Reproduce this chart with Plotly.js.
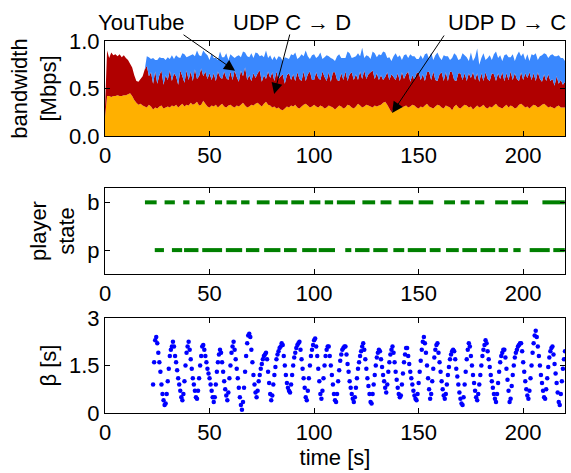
<!DOCTYPE html>
<html>
<head>
<meta charset="utf-8">
<script src="https://cdn.plot.ly/plotly-3.0.1.min.js"></script>
<style>html,body{margin:0;padding:0;background:#fff;}#chart{width:571px;height:473px;}</style>
</head>
<body>
<div id="chart"></div>
<script>
// ---------- data ----------
// bandwidth samples, one per second, t = 0..220 [Mbps]
var bwTime = [];
for (var i = 0; i <= 220; i++) bwTime.push(i);

var udpDC = [
0.20,0.42,0.42,0.41,0.42,0.42,0.43,0.42,0.42,0.43,
0.43,0.44,0.45,0.42,0.38,0.35,0.33,0.34,0.32,0.31,
0.30,0.33,0.31,0.28,0.30,0.29,0.31,0.32,0.29,0.30,
0.31,0.30,0.32,0.31,0.33,0.30,0.32,0.34,0.31,0.33,
0.32,0.35,0.33,0.34,0.36,0.32,0.33,0.37,0.34,0.31,
0.30,0.32,0.31,0.33,0.30,0.32,0.34,0.31,0.30,0.32,
0.33,0.31,0.30,0.32,0.31,0.33,0.35,0.32,0.30,0.31,
0.33,0.32,0.34,0.35,0.33,0.31,0.34,0.36,0.33,0.32,
0.30,0.31,0.29,0.30,0.28,0.27,0.29,0.31,0.30,0.32,
0.31,0.33,0.30,0.29,0.31,0.33,0.34,0.32,0.30,0.31,
0.33,0.31,0.30,0.32,0.31,0.29,0.30,0.32,0.31,0.30,
0.28,0.30,0.32,0.31,0.29,0.30,0.33,0.32,0.30,0.29,
0.31,0.34,0.32,0.30,0.31,0.33,0.32,0.31,0.30,0.32,
0.31,0.32,0.33,0.35,0.36,0.33,0.29,0.25,0.29,0.31,
0.32,0.31,0.30,0.31,0.32,0.30,0.31,0.33,0.32,0.30,
0.29,0.31,0.30,0.32,0.34,0.31,0.30,0.29,0.31,0.33,
0.32,0.30,0.29,0.32,0.31,0.30,0.27,0.31,0.33,0.30,
0.29,0.31,0.33,0.32,0.30,0.31,0.28,0.30,0.32,0.30,
0.31,0.33,0.30,0.29,0.31,0.30,0.32,0.34,0.31,0.30,
0.29,0.31,0.33,0.30,0.32,0.31,0.29,0.30,0.33,0.34,
0.32,0.30,0.31,0.29,0.31,0.33,0.32,0.30,0.31,0.33,
0.34,0.32,0.30,0.31,0.30,0.29,0.31,0.32,0.30,0.30,
0.30];

var udpCD = [
0.10,0.48,0.40,0.47,0.43,0.44,0.41,0.44,0.41,0.42,
0.39,0.36,0.31,0.30,0.26,0.23,0.24,0.26,0.31,0.39,
0.44,0.30,0.36,0.27,0.38,0.26,0.33,0.37,0.25,0.34,
0.28,0.39,0.26,0.35,0.30,0.24,0.37,0.29,0.25,0.36,
0.27,0.33,0.25,0.36,0.24,0.31,0.38,0.26,0.34,0.29,
0.36,0.27,0.35,0.25,0.38,0.30,0.26,0.37,0.31,0.27,
0.35,0.28,0.39,0.30,0.26,0.36,0.28,0.40,0.29,0.33,
0.25,0.34,0.27,0.31,0.36,0.26,0.30,0.24,0.35,0.29,
0.37,0.27,0.39,0.30,0.35,0.38,0.26,0.33,0.36,0.27,
0.34,0.25,0.37,0.31,0.27,0.35,0.24,0.33,0.38,0.28,
0.26,0.36,0.31,0.27,0.37,0.33,0.28,0.35,0.26,0.37,
0.39,0.29,0.26,0.35,0.30,0.38,0.25,0.33,0.37,0.30,
0.34,0.25,0.36,0.30,0.38,0.27,0.33,0.36,0.39,0.28,
0.35,0.27,0.31,0.24,0.26,0.34,0.30,0.40,0.33,0.28,
0.34,0.27,0.37,0.29,0.33,0.38,0.26,0.31,0.27,0.36,
0.38,0.28,0.35,0.26,0.33,0.37,0.29,0.39,0.28,0.25,
0.33,0.37,0.29,0.35,0.27,0.38,0.40,0.28,0.25,0.36,
0.37,0.28,0.33,0.26,0.36,0.30,0.39,0.29,0.34,0.27,
0.35,0.25,0.37,0.31,0.27,0.36,0.33,0.24,0.35,0.30,
0.38,0.27,0.33,0.29,0.36,0.28,0.37,0.30,0.25,0.33,
0.27,0.36,0.30,0.38,0.28,0.33,0.26,0.37,0.29,0.24,
0.31,0.26,0.35,0.27,0.30,0.24,0.32,0.23,0.29,0.24,
0.27];

var youtube = [
0,0,0,0,0,0,0,0,0,0,
0,0,0,0,0,0,0,0,0,0,
0.10,0.20,0.14,0.27,0.12,0.25,0.19,0.13,0.28,0.16,
0.24,0.12,0.27,0.15,0.22,0.29,0.13,0.24,0.30,0.14,
0.25,0.17,0.28,0.14,0.30,0.22,0.13,0.27,0.19,0.25,
0.14,0.28,0.16,0.24,0.12,0.27,0.23,0.15,0.26,0.21,
0.18,0.25,0.13,0.22,0.28,0.14,0.26,0.16,0.25,0.19,
0.29,0.16,0.27,0.21,0.15,0.28,0.19,0.30,0.14,0.24,
0.13,0.26,0.12,0.24,0.20,0.14,0.28,0.18,0.15,0.27,
0.20,0.30,0.14,0.23,0.28,0.16,0.32,0.19,0.13,0.26,
0.27,0.15,0.23,0.29,0.13,0.21,0.27,0.17,0.25,0.14,
0.12,0.25,0.28,0.16,0.23,0.14,0.31,0.22,0.15,0.24,
0.19,0.28,0.16,0.33,0.13,0.25,0.19,0.14,0.20,0.27,
0.17,0.27,0.21,0.30,0.26,0.15,0.24,0.14,0.22,0.28,
0.17,0.27,0.13,0.25,0.21,0.14,0.29,0.20,0.25,0.15,
0.14,0.26,0.16,0.28,0.20,0.13,0.29,0.12,0.26,0.30,
0.18,0.13,0.27,0.17,0.26,0.12,0.15,0.28,0.27,0.14,
0.15,0.28,0.19,0.25,0.13,0.27,0.12,0.24,0.26,0.18,
0.16,0.29,0.13,0.22,0.27,0.14,0.21,0.31,0.16,0.25,
0.12,0.27,0.20,0.24,0.15,0.27,0.13,0.25,0.31,0.17,
0.28,0.14,0.25,0.12,0.27,0.19,0.29,0.13,0.24,0.28,
0.22,0.28,0.17,0.27,0.26,0.31,0.21,0.30,0.23,0.28,
0.22];

// player state intervals [start, end] in seconds
var bufferingIntervals = [
[19.1,24.7],[28.5,33.4],[37.4,40.4],[43.5,47.7],[52.6,56.0],[58.1,63.0],
[65.1,69.1],[72.6,78.7],[81.3,87.4],[89.1,95.2],[97.8,103.0],[105.1,109.1],
[110.9,119.6],[123.1,129.2],[131.8,137.0],[140.5,147.4],[150.0,157.0],
[162.2,167.4],[170.1,174.4],[177.0,181.4],[186.6,192.7],[194.4,202.3],[209.2,219.9]];
var playingIntervals = [
[23.8,28.2],[32.0,36.9],[37.8,44.7],[46.5,56.0],[57.8,65.6],[67.4,73.8],
[76.1,83.9],[85.6,91.7],[94.3,101.3],[102.2,110.0],[114.9,117.8],[119.6,126.5],
[128.3,135.2],[137.9,143.1],[144.8,153.5],[155.3,160.5],[163.1,169.2],
[170.9,177.9],[179.6,186.6],[188.3,192.7],[195.3,198.8],[203.1,212.7],[214.4,219.9]];
var stateTicks = ['p', 'b'];

// buffer level beta [s], sampled every 0.5 s starting at t = 23 s
var betaStart = 23, betaStep = 0.5;
var beta = [
0.9,1.6,2.3,2.4,2.2,1.9,1.6,1.3,0.9,0.6,
0.4,0.25,0.3,0.6,1.0,1.4,1.8,2.0,2.1,2.25,
2.1,1.8,1.6,1.35,1.1,0.9,0.7,0.5,0.4,0.6,
1.0,1.5,1.9,2.1,2.25,2.0,1.7,1.4,1.1,0.9,
0.7,0.5,0.45,0.7,1.1,1.5,1.8,2.1,2.15,2.0,
1.8,1.6,1.4,1.25,1.1,0.9,0.7,0.5,0.35,0.5,
0.9,1.3,1.6,1.85,2.0,1.9,1.6,1.3,1.0,0.75,
0.55,0.4,0.65,1.1,1.5,1.9,2.1,2.25,2.0,1.7,
1.4,1.1,0.8,0.5,0.25,0.1,0.35,0.8,1.3,1.8,
2.2,2.45,2.5,2.4,2.0,1.6,1.2,0.9,0.65,0.5,
0.7,1.0,1.2,1.4,1.55,1.7,1.8,1.85,1.9,1.7,
1.3,0.95,0.6,0.4,0.55,0.9,1.2,1.45,1.7,1.85,
1.95,2.05,2.1,2.2,2.15,1.8,1.5,1.2,0.95,0.8,
0.7,0.65,0.9,1.2,1.5,1.75,1.9,2.05,2.15,2.2,
2.25,2.0,1.7,1.4,1.1,0.8,0.5,0.4,0.7,1.1,
1.5,1.8,2.0,2.15,2.3,2.35,2.1,1.8,1.4,1.0,
0.6,0.45,0.7,1.1,1.5,1.8,2.0,2.1,2.1,1.8,
1.5,1.2,0.9,0.6,0.4,0.35,0.6,1.0,1.35,1.65,
1.85,2.0,2.05,2.1,2.1,1.85,1.55,1.3,1.0,0.8,
0.6,0.45,0.35,0.5,0.8,1.1,1.4,1.6,1.8,1.95,
2.1,2.2,2.0,1.7,1.4,1.1,0.85,0.6,0.35,0.3,
0.6,0.9,1.2,1.5,1.75,1.9,2.0,1.95,1.7,1.45,
1.2,1.0,0.8,0.65,0.9,1.3,1.6,1.85,2.0,2.1,
1.9,1.6,1.3,1.05,0.8,0.6,0.5,0.55,0.9,1.25,
1.6,1.85,2.05,2.05,1.8,1.55,1.3,1.1,0.9,0.7,
0.55,0.45,0.4,0.6,0.95,1.3,1.65,2.0,2.25,2.4,
2.2,1.9,1.5,1.1,0.75,0.45,0.6,1.0,1.4,1.75,
2.0,2.15,2.2,1.9,1.6,1.3,1.0,0.75,0.55,0.45,
0.6,0.9,1.2,1.45,1.7,1.85,1.95,2.0,1.95,1.7,
1.4,1.15,0.9,0.65,0.45,0.3,0.25,0.5,0.9,1.3,
1.7,2.0,2.2,2.1,1.8,1.5,1.2,0.95,0.7,0.5,
0.4,0.6,0.9,1.2,1.5,1.8,2.0,2.15,2.3,2.2,
1.95,1.7,1.45,1.2,1.0,0.8,0.6,0.45,0.35,0.6,
0.95,1.3,1.6,1.8,1.9,2.0,2.0,1.75,1.4,1.05,
0.7,0.35,0.45,0.85,1.2,1.5,1.75,1.9,2.0,2.1,
2.15,2.2,2.2,1.95,1.6,1.3,1.0,0.75,0.55,0.45,
0.7,1.1,1.5,1.9,2.2,2.45,2.6,2.4,2.1,1.8,
1.5,1.2,0.95,0.7,0.5,0.45,0.75,1.1,1.45,1.75,
1.95,2.05,2.1,1.85,1.55,1.25,0.95,0.65,0.35,0.25,
0.6,1.0,1.4,1.7,1.95];

var timeTicks = [0, 50, 100, 150, 200];

// ---------- build ----------
var betaTime = beta.map(function (v, k) { return betaStart + k * betaStep; });
function segs(list, level) {
  var xs = [], ys = [];
  list.forEach(function (s) { xs.push(s[0], s[1], null); ys.push(level, level, null); });
  return {x: xs, y: ys};
}
var bSeg = segs(bufferingIntervals, 1);
var pSeg = segs(playingIntervals, 0);

var FONT = 'Liberation Sans, Arial, Helvetica, sans-serif';
var traces = [
  {x: bwTime, y: udpDC, type: 'scatter', mode: 'none', stackgroup: 'bw', fillcolor: '#FFB000', name: 'UDP D → C', xaxis: 'x', yaxis: 'y'},
  {x: bwTime, y: udpCD, type: 'scatter', mode: 'none', stackgroup: 'bw', fillcolor: '#B00000', name: 'UDP C → D', xaxis: 'x', yaxis: 'y'},
  {x: bwTime, y: youtube, type: 'scatter', mode: 'none', stackgroup: 'bw', fillcolor: '#3A88FE', name: 'YouTube', xaxis: 'x', yaxis: 'y'},
  {x: bSeg.x, y: bSeg.y, type: 'scatter', mode: 'lines', line: {color: '#008000', width: 4}, xaxis: 'x2', yaxis: 'y2', connectgaps: false},
  {x: pSeg.x, y: pSeg.y, type: 'scatter', mode: 'lines', line: {color: '#008000', width: 4}, xaxis: 'x2', yaxis: 'y2', connectgaps: false},
  {x: betaTime, y: beta, type: 'scatter', mode: 'markers', marker: {color: '#0000FF', size: 4.5}, xaxis: 'x3', yaxis: 'y3'}
];

function xax(anchor, extra) {
  var a = {anchor: anchor, domain: [0, 1], range: [0, 220], tickvals: timeTicks, ticktext: timeTicks.map(String),
    ticks: 'inside', ticklen: 5, tickcolor: '#000', showline: true, linecolor: '#000', linewidth: 1, mirror: 'ticks',
    showgrid: false, zeroline: false, tickfont: {size: 22, color: '#000'}};
  for (var k in extra) a[k] = extra[k];
  return a;
}
function yax(anchor, domain, range, vals, text, title, standoff) {
  return {anchor: anchor, domain: domain, range: range, tickvals: vals, ticktext: text,
    ticks: 'inside', ticklen: 5, tickcolor: '#000', showline: true, linecolor: '#000', linewidth: 1, mirror: 'ticks',
    showgrid: false, zeroline: false, tickfont: {size: 22, color: '#000'},
    title: {text: title, font: {size: 22, color: '#000'}, standoff: standoff}};
}

var layout = {
  width: 571, height: 473,
  margin: {l: 105, r: 6, t: 41, b: 60},
  paper_bgcolor: '#fff', plot_bgcolor: '#fff',
  font: {family: FONT, size: 22, color: '#000'},
  showlegend: false,
  xaxis: xax('y', {}),
  yaxis: yax('x', [0.7446, 1], [0, 1], [0, 0.5, 1], ['0.0', '0.5', '1.0'], 'bandwidth<br>[Mbps]', 6),
  xaxis2: xax('y2', {}),
  yaxis2: yax('x2', [0.3737, 0.6048], [-0.5, 1.3], [0, 1], stateTicks, 'player<br>state', 6),
  xaxis3: xax('y3', {title: {text: 'time [s]', font: {size: 22, color: '#000'}, standoff: 2}}),
  yaxis3: yax('x3', [0, 0.2554], [0, 3], [0, 1.5, 3], ['0', '1.5', '3'], 'β [s]', 6),
  annotations: [
    {xref: 'paper', yref: 'paper', x: 0.078, y: 1.051, text: 'YouTube', showarrow: false, xanchor: 'center', yanchor: 'middle', font: {size: 22, color: '#000'}},
    {xref: 'paper', yref: 'paper', x: 0.4065, y: 1.051, text: 'UDP C → D', showarrow: false, xanchor: 'center', yanchor: 'middle', font: {size: 22, color: '#000'}},
    {xref: 'paper', yref: 'paper', x: 0.7413, y: 1.051, text: 'UDP D → C', showarrow: false, xanchor: 'left', yanchor: 'middle', font: {size: 22, color: '#000'}},
    {xref: 'x', yref: 'y', x: 62.2, y: 0.687, text: '', showarrow: true, ax: -53, ay: -37, arrowhead: 2, arrowsize: 2.2, arrowwidth: 1, arrowcolor: '#000', standoff: 0},
    {xref: 'x', yref: 'y', x: 80.9, y: 0.442, text: '', showarrow: true, ax: 16, ay: -61, arrowhead: 2, arrowsize: 2.2, arrowwidth: 1, arrowcolor: '#000', standoff: 0},
    {xref: 'x', yref: 'y', x: 137.3, y: 0.242, text: '', showarrow: true, ax: 53, ay: -79, arrowhead: 2, arrowsize: 2.2, arrowwidth: 1, arrowcolor: '#000', standoff: 0}
  ]
};

Plotly.newPlot('chart', traces, layout, {staticPlot: true, displayModeBar: false});
</script>
</body>
</html>
